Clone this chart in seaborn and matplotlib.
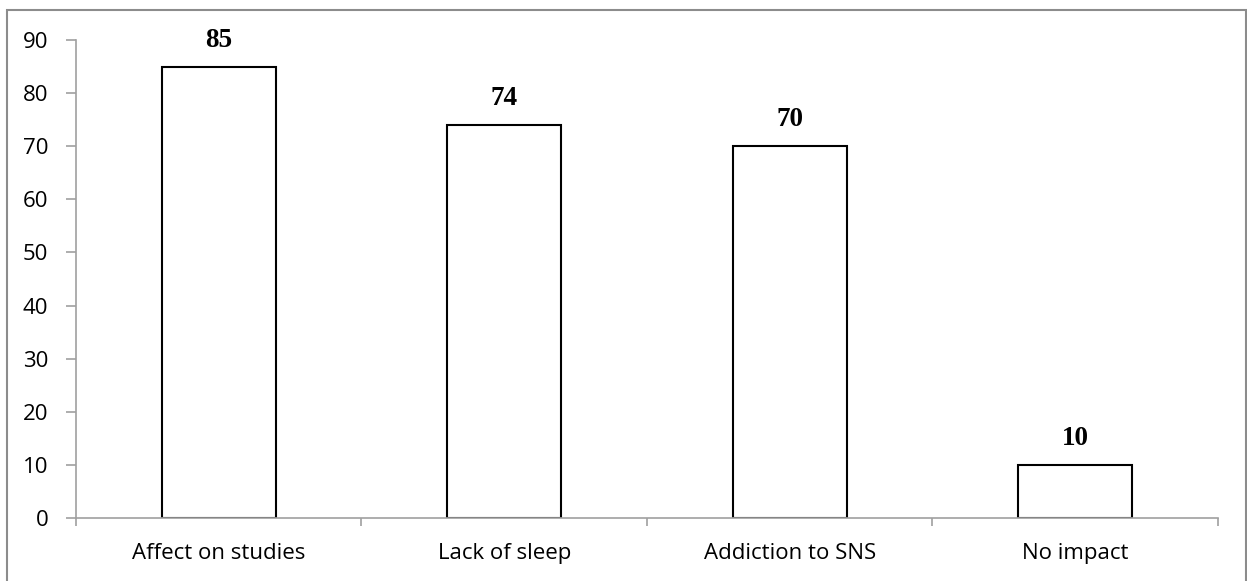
import matplotlib
matplotlib.use("Agg")
import matplotlib.pyplot as plt
import seaborn as sns
import pandas as pd
from matplotlib.patches import Rectangle

categories = ["Affect on studies", "Lack of sleep", "Addiction to SNS", "No impact"]
values = [85, 74, 70, 10]
y_ticks = [0, 10, 20, 30, 40, 50, 60, 70, 80, 90]

sns.set_theme(style="white")
plt.rcParams["font.family"] = ["Open Sans", "DejaVu Sans"]

df = pd.DataFrame({"category": categories, "value": values})

fig = plt.figure(figsize=(12.47, 5.81), dpi=100)
ax = fig.add_axes([0.0609, 0.1084, 0.9158, 0.8228])

sns.barplot(data=df, x="category", y="value", ax=ax, color="white",
            edgecolor="black", linewidth=1.5, width=0.4, saturation=1)

ax.set_ylim(0, 90)
ax.set_xlim(-0.5, len(categories) - 0.5)
ax.set_yticks(y_ticks)
ax.set_xlabel("")
ax.set_ylabel("")

spine_col = "#a0a0a0"
for side in ["top", "right"]:
    ax.spines[side].set_visible(False)
for side in ["left", "bottom"]:
    ax.spines[side].set_color(spine_col)
    ax.spines[side].set_linewidth(1.2)

ax.tick_params(axis="y", which="major", direction="out", length=7, width=1.2,
               color=spine_col, labelsize=16, pad=13, left=True, labelcolor="black")
ax.tick_params(axis="x", which="major", length=0, labelsize=16, pad=18,
               labelcolor="black")
ax.set_xticks([i - 0.5 for i in range(len(categories) + 1)], minor=True)
ax.tick_params(axis="x", which="minor", direction="out", length=6, width=1.2,
               color=spine_col, bottom=True)

for i, v in enumerate(values):
    ax.annotate(f"{v}", xy=(i, v), xytext=(0, 10), textcoords="offset points",
                ha="center", va="bottom", fontsize=19.5, fontweight="bold",
                color="black", family=["Liberation Serif", "DejaVu Serif"])

# outer frame around the chart area (runs past the bottom edge)
fig.patches.append(Rectangle((7 / 1247, -10 / 581), 1239 / 1247, 581 / 581,
                             transform=fig.transFigure, fill=False,
                             edgecolor="#8c8c8c", linewidth=1.5))

fig.savefig("out.png", dpi=100)
